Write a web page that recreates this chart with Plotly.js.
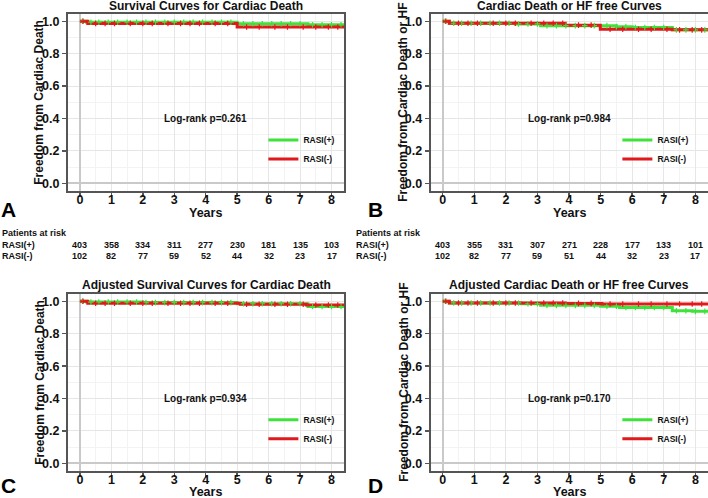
<!DOCTYPE html>
<html>
<head>
<meta charset="utf-8">
<script src="https://cdn.plot.ly/plotly-3.0.1.min.js"></script>
<style>html,body{margin:0;padding:0;background:#fff;}#chart{width:708px;height:498px;}</style>
</head>
<body>
<div id="chart"></div>
<script>
// ---- data ----
const panelTitles = ["Survival Curves for Cardiac Death", "Cardiac Death or HF free Curves",
  "Adjusted Survival Curves for Cardiac Death", "Adjusted Cardiac Death or HF free Curves"];
const yTitles = ["Freedom from Cardiac Death", "Freedom from Cardiac Death or HF",
  "Freedom from Cardiac Death", "Freedom from Cardiac Death or HF"];
const xTitle = "Years";
const pValues = ["Log-rank p=0.261", "Log-rank p=0.984", "Log-rank p=0.934", "Log-rank p=0.170"];
const panelLetters = ["A", "B", "C", "D"];
const groupNames = ["RASI(+)", "RASI(-)"];

const years = [0, 1, 2, 3, 4, 5, 6, 7, 8];
const riskPlusA = [403, 358, 334, 311, 277, 230, 181, 135, 103];
const riskMinusA = [102, 82, 77, 59, 52, 44, 32, 23, 17];
const riskPlusB = [403, 355, 331, 307, 271, 228, 177, 133, 101];
const riskMinusB = [102, 82, 77, 59, 51, 44, 32, 23, 17];

// step curves (time, survival)
const A_plus_t = [0, 0.21, 5.0, 7.25, 8.4];
const A_plus_s = [1, 0.994, 0.985, 0.979, 0.979];
const A_minus_t = [0, 0.25, 5.0, 8.4];
const A_minus_s = [1, 0.987, 0.965, 0.965];

const B_plus_t = [0, 0.21, 2.3, 3.1, 5.5, 6.0, 7.27, 8.4];
const B_plus_s = [1, 0.988, 0.984, 0.973, 0.967, 0.962, 0.947, 0.947];
const B_minus_t = [0, 0.21, 3.88, 4.99, 7.27, 8.4];
const B_minus_s = [1, 0.988, 0.976, 0.951, 0.947, 0.947];

const C_plus_t = [0, 0.21, 2.0, 5.0, 7.25, 8.4];
const C_plus_s = [1, 0.995, 0.992, 0.985, 0.968, 0.968];
const C_minus_t = [0, 0.25, 5.1, 7.2, 8.4];
const C_minus_s = [1, 0.988, 0.982, 0.977, 0.977];

const D_plus_t = [0, 0.21, 2.5, 3.1, 5.0, 5.6, 7.27, 7.9, 8.4];
const D_plus_s = [1, 0.99, 0.985, 0.975, 0.970, 0.962, 0.942, 0.938, 0.938];
const D_minus_t = [0, 0.21, 3.88, 5.04, 8.4];
const D_minus_s = [1, 0.99, 0.987, 0.983, 0.983];

// censoring times
const censorPlus = [0.08, 0.35, 0.6, 0.9, 1.2, 1.5, 1.8, 2.1, 2.4, 2.7, 3.0, 3.3, 3.6, 3.9, 4.2, 4.5, 4.8, 5.2, 5.5, 5.8, 6.1, 6.4, 6.7, 7.0, 7.4, 7.7, 8.0, 8.3];
const censorMinus = [0.1, 0.5, 0.8, 1.1, 1.6, 2.0, 2.3, 2.8, 3.2, 3.5, 3.8, 4.3, 4.7, 5.3, 5.7, 6.2, 6.6, 7.1, 7.5, 7.9, 8.2];

// ---- styling ----
const GREEN = "#3fe23a";
const RED = "#e0191b";
const FONT = "Liberation Sans, Arial, sans-serif";

function stepAt(t, ts, ss) {
  let v = ss[0];
  for (let i = 0; i < ts.length; i++) { if (ts[i] <= t) v = ss[i]; }
  return v;
}

const curves = [
  [[A_plus_t, A_plus_s], [A_minus_t, A_minus_s]],
  [[B_plus_t, B_plus_s], [B_minus_t, B_minus_s]],
  [[C_plus_t, C_plus_s], [C_minus_t, C_minus_s]],
  [[D_plus_t, D_plus_s], [D_minus_t, D_minus_s]]
];
const censors = [censorPlus, censorMinus];
const colors = [GREEN, RED];

const axSuffix = ["", "2", "3", "4"];
const legendIds = ["legend", "legend2", "legend3", "legend4"];

const traces = [];
for (let p = 0; p < 4; p++) {
  for (let g = 0; g < 2; g++) {
    const [ts, ss] = curves[p][g];
    traces.push({
      x: ts, y: ss, type: "scatter", mode: "lines", line: {shape: "hv", color: colors[g], width: 3},
      name: groupNames[g], xaxis: "x" + axSuffix[p], yaxis: "y" + axSuffix[p], legend: legendIds[p],
      showlegend: true, hoverinfo: "skip"
    });
  }
  for (let g = 0; g < 2; g++) {
    const [ts, ss] = curves[p][g];
    const cx = censors[g];
    traces.push({
      x: cx, y: cx.map(t => stepAt(t, ts, ss)), type: "scatter", mode: "markers",
      marker: {symbol: "cross-thin", size: 4, line: {color: colors[g], width: 1.2}, color: colors[g]},
      xaxis: "x" + axSuffix[p], yaxis: "y" + axSuffix[p], showlegend: false, hoverinfo: "skip"
    });
  }
}

// panel geometry (paper fractions)
const xDom = [[0.096, 0.486], [0.6083, 1.0], [0.096, 0.486], [0.6083, 1.0]];
const yDom = [[0.6165, 0.9719], [0.6165, 0.9719], [0.0542, 0.4096], [0.0542, 0.4096]];

const layout = {
  width: 708, height: 498, margin: {l: 0, r: 0, t: 0, b: 0},
  paper_bgcolor: "#fff", plot_bgcolor: "#fff",
  font: {family: FONT, color: "#111"},
  annotations: [], showlegend: true
};

const tickFont = {family: FONT, size: 12.5, color: "#111", weight: "bold"};
for (let p = 0; p < 4; p++) {
  const s = axSuffix[p];
  layout["xaxis" + s] = {
    domain: xDom[p], anchor: "y" + s, range: [-0.38, 8.4],
    tickmode: "array", tickvals: years, ticktext: years.map(String),
    showline: true, mirror: true, linecolor: "#555", linewidth: 2,
    ticks: "outside", ticklen: 4, tickcolor: "#555", tickwidth: 1.5,
    ticklabelstandoff: -8,
    showgrid: true, gridcolor: "#e6e6e6", gridwidth: 1,
    minor: {dtick: 0.5, tick0: 0, showgrid: true, gridcolor: "#f3f3f3", gridwidth: 1},
    zeroline: true, zerolinecolor: "#c9c9c9", zerolinewidth: 2,
    tickfont: tickFont, fixedrange: true
  };
  layout["yaxis" + s] = {
    domain: yDom[p], anchor: "x" + s, range: [-0.047, 1.045],
    tick0: 0, dtick: 0.2, tickformat: ".1f",
    showline: true, mirror: true, linecolor: "#555", linewidth: 2,
    ticks: "outside", ticklen: 4, tickcolor: "#555", tickwidth: 1.5,
    showgrid: true, gridcolor: "#e6e6e6", gridwidth: 1,
    minor: {dtick: 0.1, tick0: 0, showgrid: true, gridcolor: "#f3f3f3", gridwidth: 1},
    zeroline: true, zerolinecolor: "#c9c9c9", zerolinewidth: 2,
    tickfont: tickFont, fixedrange: true
  };
  // legend
  layout[legendIds[p]] = {
    x: (p % 2 === 0) ? 0.372 : 0.872, y: (p < 2) ? 0.748 : 0.186,
    xanchor: "left", yanchor: "top", bgcolor: "rgba(0,0,0,0)",
    font: {family: FONT, size: 8.5, color: "#111", weight: "bold"},
    itemwidth: 30, tracegroupgap: 0
  };
  // panel title
  layout.annotations.push({
    text: panelTitles[p], xref: "paper", yref: "paper",
    x: (xDom[p][0] + xDom[p][1]) / 2, y: (p < 2) ? 0.988 : 0.4287,
    xanchor: "center", yanchor: "middle", showarrow: false,
    font: {family: FONT, size: 12, color: "#111", weight: "bold"}
  });
  // y axis title
  layout.annotations.push({
    text: yTitles[p], xref: "paper", yref: "paper", textangle: -90,
    x: (p % 2 === 0) ? 0.0555 : 0.5696, y: (yDom[p][0] + yDom[p][1]) / 2,
    xanchor: "center", yanchor: "middle", showarrow: false,
    font: {family: FONT, size: 12, color: "#111", weight: "bold"}
  });
  // x axis title
  layout.annotations.push({
    text: xTitle, xref: "x" + s, yref: "paper", x: 4, y: (p < 2) ? 0.572 : 0.0125,
    xanchor: "center", yanchor: "middle", showarrow: false,
    font: {family: FONT, size: 12.5, color: "#111", weight: "bold"}
  });
  // log-rank text
  layout.annotations.push({
    text: pValues[p], xref: "x" + s, yref: "y" + s, x: 4, y: 0.4,
    xanchor: "center", yanchor: "middle", showarrow: false,
    font: {family: FONT, size: 10, color: "#111", weight: "bold"}
  });
  // panel letter
  layout.annotations.push({
    text: panelLetters[p], xref: "paper", yref: "paper",
    x: (p % 2 === 0) ? 0.0127 : 0.5297, y: (p < 2) ? 0.580 : 0.026,
    xanchor: "center", yanchor: "middle", showarrow: false,
    font: {family: FONT, size: 21, color: "#000", weight: "bold"}
  });
}

// risk tables
const riskSets = [[riskPlusA, riskMinusA, "x"], [riskPlusB, riskMinusB, "x2"]];
const rowY = [0.508, 0.486];
riskSets.forEach((rs, k) => {
  const x0 = k === 0 ? 0.0 : 0.5;
  const small = {family: FONT, size: 9, color: "#111", weight: "bold"};
  layout.annotations.push({text: "Patients at risk", xref: "paper", yref: "paper", x: x0, y: 0.532,
    xanchor: "left", yanchor: "middle", showarrow: false, font: small});
  for (let g = 0; g < 2; g++) {
    layout.annotations.push({text: groupNames[g], xref: "paper", yref: "paper", x: x0, y: rowY[g],
      xanchor: "left", yanchor: "middle", showarrow: false, font: small});
    years.forEach((yr, i) => {
      layout.annotations.push({text: String(rs[g][i]), xref: rs[2], yref: "paper", x: yr, y: rowY[g],
        xanchor: "center", yanchor: "middle", showarrow: false, font: small});
    });
  }
});

Plotly.newPlot("chart", traces, layout, {displayModeBar: false, staticPlot: true});
</script>
</body>
</html>
